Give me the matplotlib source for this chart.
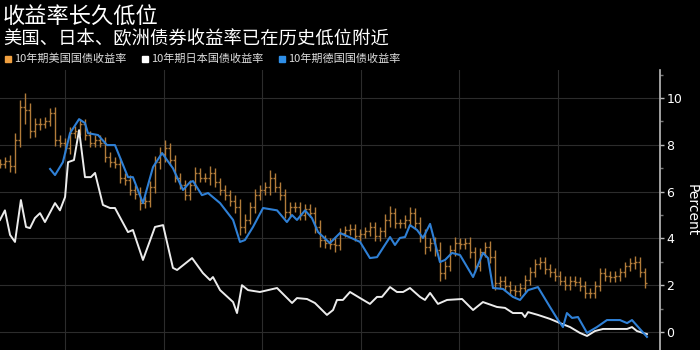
import numpy as np
import matplotlib
matplotlib.use('Agg')
import matplotlib.pyplot as plt
from matplotlib.collections import LineCollection
from matplotlib.patches import Rectangle

CJK = ['Noto Sans CJK SC', 'DejaVu Sans']
plt.rcParams['font.family'] = CJK

title = '收益率长久低位'
subtitle = '美国、日本、欧洲债券收益率已在历史低位附近'
legend_labels = ['10年期美国国债收益率', '10年期日本国债收益率', '10年期德国国债收益率']

# US 10y: quarterly bars (close values), mid 1986 to mid 2019
us_start, us_end = 1986.7, 2019.4
us_close = [7.2, 7.3, 7.1, 8.2, 9.6, 9.5, 8.6, 8.9, 8.9, 9.0,
            9.36, 8.2, 8.1, 7.86, 8.5, 8.6, 8.9, 8.4, 8.1, 8.2,
            8.1, 7.5, 7.26, 7.2, 6.6, 6.5, 6.07, 5.9, 5.5, 5.6,
            6.2, 7.26, 7.6, 7.86, 7.35, 6.6, 6.3, 5.85, 6.3, 6.8,
            6.6, 6.6, 6.8, 6.4, 6.07, 5.85, 5.6, 5.34, 4.49, 4.8,
            5.34, 5.85, 6.07, 6.2, 6.58, 6.2, 5.85, 5.13, 5.34, 5.34,
            5.0, 5.27, 5.1, 4.49, 3.93, 3.8, 3.75, 3.7, 4.25, 4.35,
            4.4, 4.1, 4.2, 4.3, 4.5, 4.1, 4.3, 4.79, 5.08, 4.65,
            4.65, 4.8, 5.1, 4.65, 4.1, 3.65, 3.8, 3.5, 2.52, 2.8,
            3.5, 3.8, 3.75, 3.8, 3.4, 2.8, 3.4, 3.65, 3.2, 2.1,
            2.2, 1.96, 1.8, 1.75, 1.9, 2.22, 2.56, 2.9, 3.0, 2.7,
            2.55, 2.4, 2.2, 2.0, 2.2, 2.15, 1.96, 1.67, 1.67, 1.96,
            2.52, 2.4, 2.35, 2.4, 2.55, 2.8, 2.95, 3.0, 2.55, 2.1]
us_wick = [0.2, 0.2, 0.25, 0.3, 0.3, 0.6, 0.3, 0.25, 0.25, 0.2,
           0.2, 0.25, 0.2, 0.2, 0.25, 0.2, 0.2, 0.2, 0.2, 0.2,
           0.2, 0.25, 0.2, 0.2, 0.25, 0.2, 0.2, 0.2, 0.3, 0.2,
           0.25, 0.25, 0.3, 0.35, 0.2, 0.2, 0.2, 0.2, 0.2, 0.25,
           0.2, 0.2, 0.3, 0.2, 0.2, 0.2, 0.2, 0.25, 0.35, 0.25,
           0.2, 0.25, 0.2, 0.2, 0.35, 0.2, 0.2, 0.25, 0.2, 0.2,
           0.2, 0.2, 0.2, 0.25, 0.3, 0.2, 0.2, 0.3, 0.2, 0.2,
           0.2, 0.2, 0.2, 0.2, 0.2, 0.2, 0.2, 0.25, 0.3, 0.2,
           0.2, 0.2, 0.25, 0.2, 0.25, 0.3, 0.2, 0.25, 0.35, 0.25,
           0.2, 0.25, 0.2, 0.2, 0.25, 0.25, 0.2, 0.2, 0.25, 0.3,
           0.2, 0.2, 0.2, 0.2, 0.2, 0.2, 0.2, 0.2, 0.2, 0.2,
           0.2, 0.2, 0.2, 0.2, 0.2, 0.2, 0.2, 0.2, 0.2, 0.2,
           0.2, 0.2, 0.2, 0.2, 0.2, 0.2, 0.2, 0.25, 0.2, 0.2]

# Japan 10y
jp_year = [1986.70, 1986.95, 1987.21, 1987.46, 1987.76, 1988.02, 1988.22, 1988.47, 1988.73, 1988.98,
           1989.49, 1989.74, 1990.00, 1990.15, 1990.45, 1990.71, 1991.01, 1991.31, 1991.52, 1991.92,
           1992.28, 1992.53, 1993.19, 1993.44, 1993.95, 1994.56, 1994.97, 1995.47, 1995.68, 1996.44,
           1996.99, 1997.35, 1997.50, 1997.86, 1998.52, 1998.72, 1998.97, 1999.28, 1999.88, 2000.75,
           2001.51, 2001.76, 2002.27, 2002.67, 2003.28, 2003.59, 2003.79, 2004.09, 2004.45, 2004.96,
           2005.46, 2005.82, 2006.07, 2006.48, 2006.83, 2007.14, 2007.49, 2008.00, 2008.25, 2008.51,
           2008.91, 2009.37, 2010.13, 2010.69, 2011.19, 2011.90, 2012.31, 2012.71, 2013.17, 2013.32,
           2013.48, 2013.98, 2014.59, 2015.10, 2015.61, 2016.11, 2016.47, 2016.87, 2017.28, 2017.79,
           2018.50, 2018.75, 2019.00, 2019.31, 2019.51]
jp_yield = [4.79, 5.2, 4.15, 3.85, 5.64, 4.49, 4.44, 4.87, 5.08, 4.7,
            5.51, 5.2, 5.77, 7.26, 7.35, 8.63, 6.62, 6.62, 6.8, 5.43,
            5.3, 5.3, 4.27, 4.36, 3.08, 4.49, 4.57, 2.74, 2.65, 3.16,
            2.52, 2.22, 2.35, 1.79, 1.28, 0.81, 2.0, 1.79, 1.71, 1.88,
            1.24, 1.45, 1.41, 1.24, 0.73, 0.94, 1.37, 1.37, 1.71, 1.45,
            1.2, 1.5, 1.5, 1.92, 1.71, 1.71, 1.88, 1.5, 1.37, 1.67,
            1.2, 1.37, 1.41, 0.94, 1.28, 1.07, 1.03, 0.81, 0.81, 0.64,
            0.85, 0.73, 0.56, 0.38, 0.21, -0.04, -0.17, 0.04, 0.13, 0.13,
            0.13, 0.21, 0.04, -0.04, -0.09]

# Germany 10y
de_year = [1989.24, 1989.49, 1989.89, 1990.25, 1990.71, 1991.01, 1991.16, 1991.67, 1992.13, 1992.53,
           1993.19, 1993.44, 1993.95, 1994.46, 1994.92, 1995.17, 1995.47, 1995.98, 1996.34, 1996.49,
           1996.94, 1997.25, 1997.86, 1998.52, 1998.87, 1999.12, 1999.53, 2000.04, 2000.75, 2001.25,
           2001.51, 2001.76, 2002.17, 2002.52, 2002.83, 2003.43, 2003.94, 2004.30, 2004.96, 2005.46,
           2005.82, 2006.48, 2006.73, 2006.98, 2007.24, 2007.49, 2007.85, 2008.15, 2008.51, 2009.01,
           2009.27, 2009.62, 2010.03, 2010.69, 2011.19, 2011.45, 2011.70, 2012.21, 2012.71, 2013.07,
           2013.48, 2013.98, 2014.59, 2015.00, 2015.25, 2015.45, 2015.71, 2016.01, 2016.47, 2016.97,
           2017.48, 2018.14, 2018.50, 2018.75, 2019.15, 2019.51]
de_yield = [6.97, 6.71, 7.26, 8.5, 9.1, 8.93, 8.5, 8.42, 7.99, 7.99,
            6.62, 6.62, 5.51, 7.05, 7.65, 7.35, 7.0, 6.07, 6.41, 6.45,
            5.85, 5.94, 5.51, 4.79, 3.85, 3.93, 4.49, 5.3, 5.2, 4.7,
            5.0, 4.79, 5.2, 4.87, 4.27, 3.8, 4.23, 4.1, 3.85, 3.16,
            3.2, 4.06, 3.72, 4.02, 4.06, 4.57, 4.36, 4.02, 4.62, 2.99,
            3.08, 3.38, 3.29, 2.35, 3.38, 3.16, 1.88, 1.84, 1.5, 1.37,
            1.79, 1.92, 1.07, 0.51, 0.21, 0.81, 0.6, 0.64, -0.04, 0.21,
            0.51, 0.51, 0.38, 0.51, 0.13, -0.21]

grid_years = [1990, 1995, 2000, 2005, 2010, 2015]

BG = 'black'
US_C = '#b27c3a'
JP_C = '#ececec'
DE_C = '#2f80d6'

fig = plt.figure(figsize=(7, 3.5), dpi=100, facecolor=BG)
ax = fig.add_axes([0, 0, 660 / 700, 280 / 350])
ax.set_facecolor(BG)

# US bars: vertical low-high line, left tick = open, right tick = close
us_x = np.linspace(us_start, us_end, len(us_close))
half = 0.11
segs = []
for i, c in enumerate(us_close):
    o = us_close[i - 1] if i > 0 else c
    lo = min(o, c) - us_wick[i]
    hi = max(o, c) + us_wick[i]
    x = us_x[i]
    segs.append([(x, lo), (x, hi)])
    segs.append([(x - half, o), (x, o)])
    segs.append([(x, c), (x + half, c)])
ax.add_collection(LineCollection(segs, colors=US_C, linewidths=1.0, zorder=3))

ax.plot(jp_year, jp_yield, color=JP_C, lw=1.4, zorder=4)
ax.plot(de_year, de_yield, color=DE_C, lw=1.5, zorder=5)

ax.set_xlim(1986.7, 2020.17)
ax.set_ylim(-0.77, 11.2)
ax.set_xticks(grid_years)
ax.set_yticks([0, 2, 4, 6, 8, 10])
ax.set_yticks([1, 3, 5, 7, 9, 11], minor=True)
ax.grid(True, which='major', color='#2c2c2c', lw=0.8, zorder=0)
ax.tick_params(axis='x', length=0, labelbottom=False)
ax.yaxis.tick_right()
ax.yaxis.set_label_position('right')
ax.tick_params(axis='y', which='major', direction='out', length=3, width=1,
               color='#bbbbbb', labelcolor='white', labelsize=9, pad=1.5)
ax.tick_params(axis='y', which='minor', direction='out', length=2, width=1,
               color='#777777')
for lab in ax.get_yticklabels():
    lab.set_family('DejaVu Sans')
for s in ['top', 'left', 'bottom']:
    ax.spines[s].set_visible(False)
ax.spines['right'].set_color('#bbbbbb')
ax.spines['right'].set_linewidth(1.2)
ax.set_ylabel('Percent', color='white', fontsize=10, rotation=270,
              labelpad=12, family='DejaVu Sans')

# titles
fig.text(3 / 700, 1 - 16 / 350, title, color='white', fontsize=16,
         va='center', ha='left', family=CJK)
fig.text(3 / 700, 1 - 39 / 350, subtitle, color='white', fontsize=13.2,
         va='center', ha='left', family=CJK)

# legend
leg_cols = [US_C, JP_C, DE_C]
leg_sq = ['#f0a040', 'white', '#2f8fe8']
leg_x = [5, 142, 279]
for lx, lab, sq in zip(leg_x, legend_labels, leg_sq):
    fig.patches.append(Rectangle((lx / 700, 1 - 62 / 350), 6 / 700, 6 / 350,
                                 transform=fig.transFigure, color=sq))
    fig.text((lx + 9) / 700, 1 - 59 / 350, lab, color='#dddddd', fontsize=8,
             va='center', ha='left', family=CJK)

fig.savefig('out.png', dpi=100, facecolor=BG)
